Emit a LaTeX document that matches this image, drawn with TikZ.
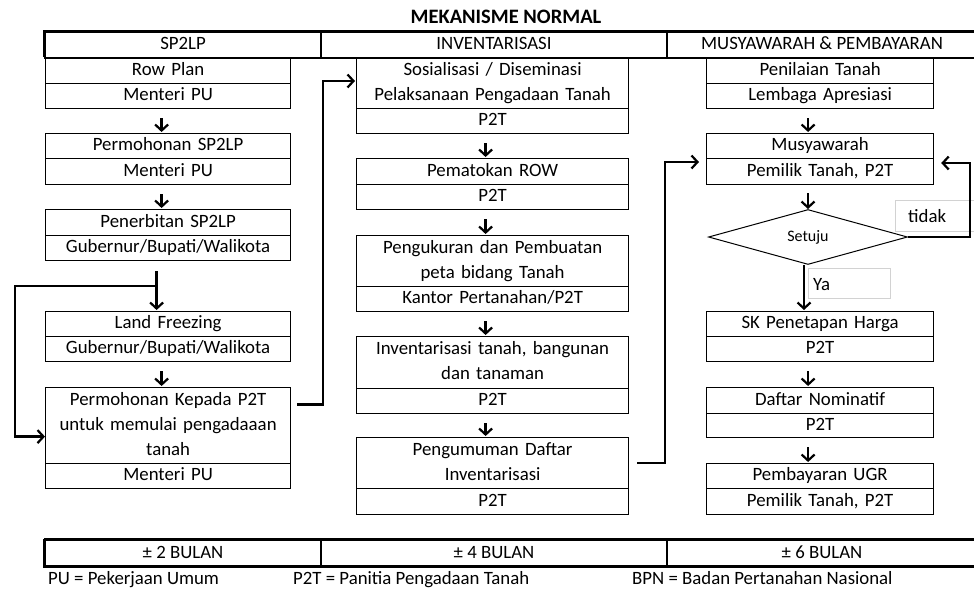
\documentclass[tikz,border=0pt]{standalone}
\usepackage{fontspec}
\setmainfont{Carlito}
\usetikzlibrary{arrows.meta,shapes.geometric}
\tikzset{
  txt/.style={font={\fontsize{18.8}{25}\selectfont}},
  cell/.style={txt,draw,line width=1.2pt,inner sep=0pt,anchor=north west,align=center,text height=12.5pt,text depth=3.5pt},
  two/.style={text depth=28.5pt},
  three/.style={text depth=53.5pt},
  lc/.style={cell,minimum width=245pt,text width=240pt},
  mc/.style={cell,minimum width=272pt,text width=266pt},
  rc/.style={cell,minimum width=227pt,text width=222pt},
  hcell/.style={txt,draw,line width=2pt,inner sep=0pt,anchor=north west,minimum height=26pt,text height=12.5pt,text depth=3.5pt},
  arr/.style={line width=2.4pt,-{Straight Barb[length=6pt,width=13pt,line width=2.2pt]}},
  sarr/.style={arr,shorten <=9pt,shorten >=1pt},
  conn/.style={line width=2.4pt,line join=miter},
  lbl/.style={draw=gray!35,line width=1pt,anchor=north west,inner sep=0pt},
  legend/.style={txt,anchor=base west,inner sep=0pt},
}
\begin{document}
\begin{tikzpicture}[x=1pt,y=-1pt]
\useasboundingbox (0,0) rectangle (974,590);
% title
\node[font={\fontsize{20.5}{22}\selectfont\bfseries}] (title) at (506,17) {MEKANISME NORMAL};
% header
\node[hcell,minimum width=276pt] (h1) at (44,31) {SP2LP};
\node[hcell,minimum width=346pt] (h2) at (320,31) {INVENTARISASI};
\node[hcell,minimum width=310pt] (h3) at (666,31) {MUSYAWARAH \& PEMBAYARAN};
\draw[line width=3pt] (44,57) |- (976,31);
% footer row
\node[hcell,minimum width=276pt,minimum height=27pt] (f1) at (44,539) {± 2 BULAN};
\node[hcell,minimum width=346pt,minimum height=27pt] (f2) at (320,539) {± 4 BULAN};
\node[hcell,minimum width=310pt,minimum height=27pt] (f3) at (666,539) {± 6 BULAN};
\draw[line width=3pt] (44,539) -- (44,566) -- (976,566);
\draw[line width=3pt] (44,539) -- (976,539);
% legend
\node[legend] (k1) at (48,584) {PU = Pekerjaan Umum};
\node[legend] (k2) at (293,584) {P2T = Panitia Pengadaan Tanah};
\node[legend] (k3) at (632,584) {BPN = Badan Pertanahan Nasional};
% left column
\node[lc,minimum height=25pt] (rp) at (45,58) {Row Plan};
\node[lc,minimum height=25pt] (rpw) at (45,83) {Menteri PU};
\node[lc,minimum height=25pt] (ps) at (45,133) {Permohonan SP2LP};
\node[lc,minimum height=26pt] (psw) at (45,158) {Menteri PU};
\node[lc,minimum height=26pt] (pb) at (45,209) {Penerbitan SP2LP};
\node[lc,minimum height=25pt] (pbw) at (45,235) {Gubernur/Bupati/Walikota};
\node[lc,minimum height=25pt] (lf) at (45,311) {Land Freezing};
\node[lc,minimum height=25pt] (lfw) at (45,336) {Gubernur/Bupati/Walikota};
\node[lc,three,minimum height=76pt] (pk) at (45,387) {Permohonan Kepada P2T\\untuk memulai pengadaaan\\tanah};
\node[lc,minimum height=25pt] (pkw) at (45,463) {Menteri PU};
% middle column
\node[mc,two,minimum height=50pt] (so) at (356,58) {Sosialisasi / Diseminasi\\Pelaksanaan Pengadaan Tanah};
\node[mc,minimum height=25pt] (sow) at (356,108) {P2T};
\node[mc,minimum height=26pt] (pm) at (356,158) {Pematokan ROW};
\node[mc,minimum height=25pt] (pmw) at (356,184) {P2T};
\node[mc,two,minimum height=51pt] (pg) at (356,235) {Pengukuran dan Pembuatan\\peta bidang Tanah};
\node[mc,minimum height=25pt] (pgw) at (356,286) {Kantor Pertanahan/P2T};
\node[mc,two,minimum height=52pt] (iv) at (356,336) {Inventarisasi tanah, bangunan\\dan tanaman};
\node[mc,minimum height=25pt] (ivw) at (356,388) {P2T};
\node[mc,two,minimum height=51pt] (pu) at (356,437) {Pengumuman Daftar\\Inventarisasi};
\node[mc,minimum height=26pt] (puw) at (356,488) {P2T};
% right column
\node[rc,minimum height=25pt] (pt) at (706,58) {Penilaian Tanah};
\node[rc,minimum height=25pt] (ptw) at (706,83) {Lembaga Apresiasi};
\node[rc,minimum height=25pt] (mu) at (706,133) {Musyawarah};
\node[rc,minimum height=26pt] (muw) at (706,158) {Pemilik Tanah, P2T};
\node[draw,line width=1pt,diamond,minimum width=199pt,minimum height=53pt,inner sep=0pt,font={\fontsize{16}{18}\selectfont}] (dec) at (808,237) {Setuju};
\node[lbl,minimum width=80pt,minimum height=31pt] (tbox) at (895,200) {};
\node[txt,anchor=west,inner sep=0pt] (tidak) at (908,216) {tidak};
\node[lbl,minimum width=82pt,minimum height=30pt] (ybox) at (808,268) {};
\node[txt,anchor=west,inner sep=0pt] (ya) at (813,285) {Ya};
\node[rc,minimum height=25pt] (sk) at (706,311) {SK Penetapan Harga};
\node[rc,minimum height=25pt] (skw) at (706,336) {P2T};
\node[rc,minimum height=26pt] (dn) at (706,387) {Daftar Nominatif};
\node[rc,minimum height=24pt] (dnw) at (706,413) {P2T};
\node[rc,minimum height=25pt] (ug) at (706,463) {Pembayaran UGR};
\node[rc,minimum height=26pt] (ugw) at (706,488) {Pemilik Tanah, P2T};
% short arrows left
\draw[sarr] ([xshift=-6.5pt]rpw.south) -- ([xshift=-6.5pt]ps.north);
\draw[sarr] ([xshift=-6.5pt]psw.south) -- ([xshift=-6.5pt]pb.north);
\draw[sarr] ([xshift=-6.5pt]lfw.south) -- ([xshift=-6.5pt]pk.north);
% short arrows middle
\draw[sarr] ([xshift=-7pt]sow.south) -- ([xshift=-7pt]pm.north);
\draw[sarr] ([xshift=-7pt]pmw.south) -- ([xshift=-7pt]pg.north);
\draw[sarr] ([xshift=-7pt]pgw.south) -- ([xshift=-7pt]iv.north);
\draw[sarr] ([xshift=-7pt]ivw.south) -- ([xshift=-7pt]pu.north);
% short arrows right
\draw[sarr] ([xshift=-12pt]ptw.south) -- ([xshift=-12pt]mu.north);
\draw[sarr,shorten <=8pt,shorten >=0pt] (dec.north |- muw.south) -- (dec.north);
\draw[sarr] ([xshift=-12pt]skw.south) -- ([xshift=-12pt]dn.north);
\draw[sarr] ([xshift=-12pt]dnw.south) -- ([xshift=-12pt]ug.north);
\draw[arr,shorten >=1pt] ([xshift=-4pt]dec.south) -- ([xshift=-4pt]dec.south |- sk.north);
% left loop
\coordinate (lj) at (156,286);
\coordinate (ll) at (15,286);
\draw[arr,shorten <=10pt,shorten >=1pt] ([xshift=-11.5pt]pbw.south) -- ([xshift=-11.5pt]lf.north);
\draw[conn,arr,shorten >=0pt] (lj) -- (ll) |- ([yshift=-11pt]pk.west);
% connector left to middle
\coordinate (c1) at (323,81);
\draw[conn,arr,shorten >=1pt] ([xshift=6pt,yshift=21pt]pk.east) -| (c1) -- (c1 -| so.west);
% connector middle to right
\coordinate (c2) at (665,162);
\draw[conn,arr,shorten >=7pt] ([xshift=8pt]pu.east) -| (c2) -- (c2 -| muw.west);
% tidak loop
\coordinate (tr) at (970,163);
\draw[conn,arr,shorten >=7pt] (dec.east) -| (tr) -- (tr -| muw.east);
\end{tikzpicture}
\end{document}
